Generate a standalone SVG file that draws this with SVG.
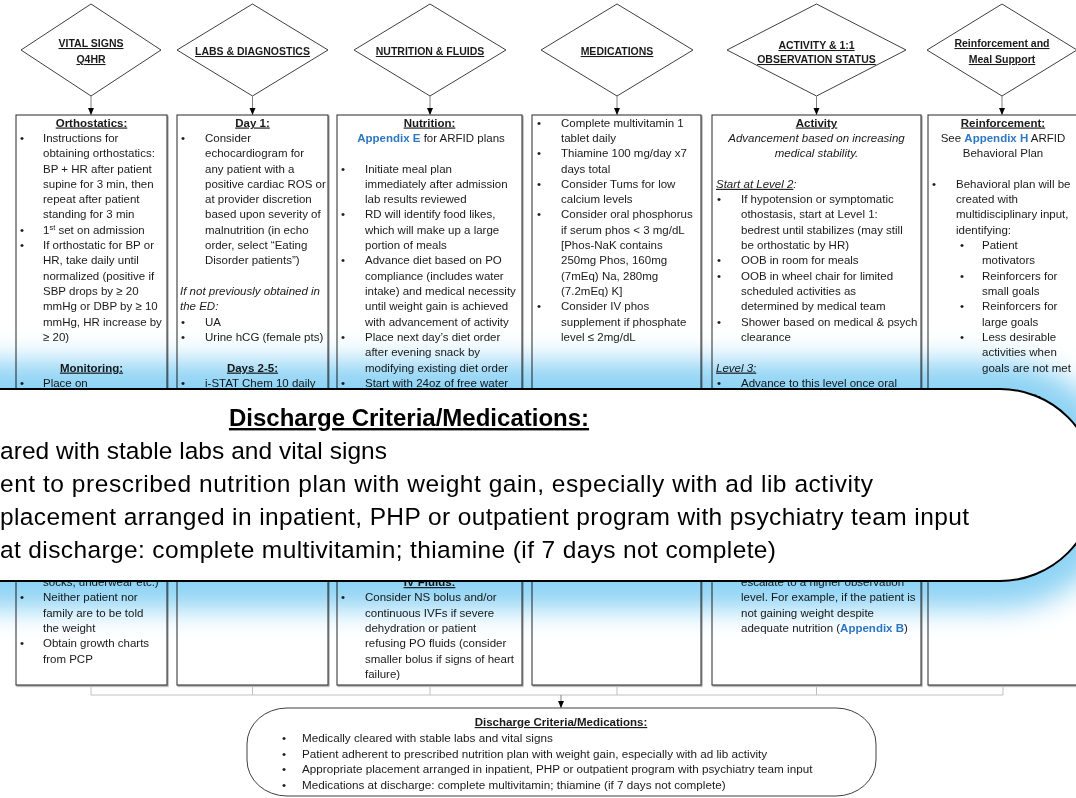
<svg xmlns="http://www.w3.org/2000/svg" width="1076" height="798" viewBox="0 0 1076 798">
<defs>
<style>
text{font-family:"Liberation Sans",Arial,sans-serif;fill:#1a1a1a}
.t{font-size:11.5px}
.h{font-size:11.5px;font-weight:bold;text-decoration:underline;text-anchor:middle}
.c{text-anchor:middle}
.i{font-style:italic}
.u{text-decoration:underline}
.ap{fill:#2e78c2;font-weight:bold}
.dt{font-size:10.5px;font-weight:bold;text-decoration:underline;text-anchor:middle}
.dia{fill:#fff;stroke:#404040;stroke-width:1}
.box{fill:#fff;stroke:#3a3a3a;stroke-width:1.1;filter:url(#shadow)}
.arrow{stroke:#808080;stroke-width:1;fill:none}
.merge{stroke:#c0c0c0;stroke-width:1;fill:none}
.m{font-size:24.5px;fill:#000}
.mh{font-size:24px;font-weight:bold;text-decoration:underline;text-anchor:middle;fill:#000}
.glow{fill:#8ed3f4;mix-blend-mode:multiply}
</style>
<marker id="head" viewBox="0 0 7 7" refX="7" refY="3.5" markerWidth="7" markerHeight="7" markerUnits="userSpaceOnUse" orient="auto">
<path d="M0,0.5 L7,3.5 L0,6.5 z" fill="#000"/>
</marker>
<filter id="shadow" x="-5%" y="-5%" width="110%" height="110%">
<feDropShadow dx="1" dy="1.2" stdDeviation="0.7" flood-color="#000" flood-opacity="0.4"/>
</filter>
<filter id="blur" x="-10%" y="-40%" width="120%" height="180%">
<feGaussianBlur stdDeviation="14"/>
</filter>
</defs>
<rect width="1076" height="798" fill="#fff"/>

<!-- category headers -->
<g id="head-vitals"><polygon class="dia" points="91,4 161,50 91,96 21,50"/>
<text class="dt" x="91" y="47">VITAL SIGNS</text><text class="dt" x="91" y="63">Q4HR</text></g>
<g id="head-labs"><polygon class="dia" points="252.5,4 328,50 252.5,96 177,50"/>
<text class="dt" x="252.5" y="55">LABS &amp; DIAGNOSTICS</text></g>
<g id="head-nutrition"><polygon class="dia" points="430,4 506,50 430,96 354,50"/>
<text class="dt" x="430" y="55">NUTRITION &amp; FLUIDS</text></g>
<g id="head-medications"><polygon class="dia" points="617,4 693,50 617,96 541,50"/>
<text class="dt" x="617" y="55">MEDICATIONS</text></g>
<g id="head-activity"><polygon class="dia" points="816.5,4 906,50 816.5,96 727,50"/>
<text class="dt" x="816.5" y="49">ACTIVITY &amp; 1:1</text><text class="dt" x="816.5" y="63">OBSERVATION STATUS</text></g>
<g id="head-reinforcement"><polygon class="dia" points="1002,4 1077,50 1002,96 927,50"/>
<text class="dt" x="1002" y="47">Reinforcement and</text><text class="dt" x="1002" y="63">Meal Support</text></g>

<!-- detail boxes -->
<g id="body-vitals" class="t">
<rect class="box" x="16" y="115" width="151" height="570"/>
<text class="h" x="91.5" y="126.5">Orthostatics:</text>
<text x="20" y="141.8">•</text><text x="43" y="141.8">Instructions for</text>
<text x="43" y="157.1">obtaining orthostatics:</text>
<text x="43" y="172.5">BP + HR after patient</text>
<text x="43" y="187.8">supine for 3 min, then</text>
<text x="43" y="203.1">repeat after patient</text>
<text x="43" y="218.4">standing for 3 min</text>
<text x="20" y="233.7">•</text><text x="43" y="233.7">1<tspan font-size="7.5px" baseline-shift="super">st</tspan> set on admission</text>
<text x="20" y="249.1">•</text><text x="43" y="249.1">If orthostatic for BP or</text>
<text x="43" y="264.4">HR, take daily until</text>
<text x="43" y="279.7">normalized (positive if</text>
<text x="43" y="295">SBP drops by ≥ 20</text>
<text x="43" y="310.3">mmHg  or DBP by ≥ 10</text>
<text x="43" y="325.7">mmHg, HR increase by</text>
<text x="43" y="341">≥ 20)</text>
<text class="h" x="91.5" y="371.6">Monitoring:</text>
<text x="20" y="386.9">•</text><text x="43" y="386.9">Place on</text>
<text x="43" y="586.1">socks, underwear etc.)</text>
<text x="20" y="601.4">•</text><text x="43" y="601.4">Neither patient nor</text>
<text x="43" y="616.7">family are to be told</text>
<text x="43" y="632.1">the weight</text>
<text x="20" y="647.4">•</text><text x="43" y="647.4">Obtain growth charts</text>
<text x="43" y="662.7">from PCP</text>
</g>

<g id="body-labs" class="t">
<rect class="box" x="177" y="115" width="151" height="570"/>
<text class="h" x="252.5" y="126.5">Day 1:</text>
<text x="181" y="141.8">•</text><text x="205" y="141.8">Consider</text>
<text x="205" y="157.1">echocardiogram for</text>
<text x="205" y="172.5">any patient with a</text>
<text x="205" y="187.8">positive cardiac ROS or</text>
<text x="205" y="203.1">at provider discretion</text>
<text x="205" y="218.4">based upon severity of</text>
<text x="205" y="233.7">malnutrition (in echo</text>
<text x="205" y="249.1">order, select “Eating</text>
<text x="205" y="264.4">Disorder patients”)</text>
<text class="i" x="180" y="295">If not previously obtained in</text>
<text class="i" x="180" y="310.3">the ED:</text>
<text x="181" y="325.7">•</text><text x="205" y="325.7">UA</text>
<text x="181" y="341">•</text><text x="205" y="341">Urine hCG (female pts)</text>
<text class="h" x="252.5" y="371.6">Days 2-5:</text>
<text x="181" y="386.9">•</text><text x="205" y="386.9">i-STAT Chem 10 daily</text>
</g>

<g id="body-nutrition" class="t">
<rect class="box" x="337" y="115" width="185" height="570"/>
<text class="h" x="429.5" y="126.5">Nutrition:</text>
<text class="c" x="431" y="141.8"><tspan class="ap">Appendix E</tspan> for ARFID plans</text>
<text x="341" y="172.5">•</text><text x="365" y="172.5">Initiate meal plan</text>
<text x="365" y="187.8">immediately after admission</text>
<text x="365" y="203.1">lab results reviewed</text>
<text x="341" y="218.4">•</text><text x="365" y="218.4">RD will identify food likes,</text>
<text x="365" y="233.7">which will make up a large</text>
<text x="365" y="249.1">portion of meals</text>
<text x="341" y="264.4">•</text><text x="365" y="264.4">Advance diet based on PO</text>
<text x="365" y="279.7">compliance (includes water</text>
<text x="365" y="295">intake) and medical necessity</text>
<text x="365" y="310.3">until weight gain is achieved</text>
<text x="365" y="325.7">with advancement of activity</text>
<text x="341" y="341">•</text><text x="365" y="341">Place next day’s diet order</text>
<text x="365" y="356.3">after evening snack by</text>
<text x="365" y="371.6">modifying existing diet order</text>
<text x="341" y="386.9">•</text><text x="365" y="386.9">Start with 24oz of free water</text>
<text class="h" x="429.5" y="586.1">IV Fluids:</text>
<text x="341" y="601.4">•</text><text x="365" y="601.4">Consider NS bolus and/or</text>
<text x="365" y="616.7">continuous IVFs if severe</text>
<text x="365" y="632.1">dehydration or patient</text>
<text x="365" y="647.4">refusing PO fluids (consider</text>
<text x="365" y="662.7">smaller bolus if signs of heart</text>
<text x="365" y="678">failure)</text>
</g>

<g id="body-medications" class="t">
<rect class="box" x="532" y="115" width="169" height="570"/>
<text x="537" y="126.5">•</text><text x="561" y="126.5">Complete multivitamin 1</text>
<text x="561" y="141.8">tablet daily</text>
<text x="537" y="157.1">•</text><text x="561" y="157.1">Thiamine 100 mg/day x7</text>
<text x="561" y="172.5">days total</text>
<text x="537" y="187.8">•</text><text x="561" y="187.8">Consider Tums for low</text>
<text x="561" y="203.1">calcium levels</text>
<text x="537" y="218.4">•</text><text x="561" y="218.4">Consider oral phosphorus</text>
<text x="561" y="233.7">if serum phos &lt; 3 mg/dL</text>
<text x="561" y="249.1">[Phos-NaK contains</text>
<text x="561" y="264.4">250mg Phos, 160mg</text>
<text x="561" y="279.7">(7mEq) Na, 280mg</text>
<text x="561" y="295">(7.2mEq) K]</text>
<text x="537" y="310.3">•</text><text x="561" y="310.3">Consider IV phos</text>
<text x="561" y="325.7">supplement if phosphate</text>
<text x="561" y="341">level ≤ 2mg/dL</text>
</g>

<g id="body-activity" class="t">
<rect class="box" x="712" y="115" width="209" height="570"/>
<text class="h" x="816.5" y="126.5">Activity</text>
<text class="c i" x="816.5" y="141.8">Advancement based on increasing</text>
<text class="c i" x="816.5" y="157.1">medical stability.</text>
<text class="i" x="716" y="187.8"><tspan class="u">Start at Level 2</tspan>:</text>
<text x="717" y="203.1">•</text><text x="741" y="203.1">If hypotension or symptomatic</text>
<text x="741" y="218.4">othostasis, start at Level 1:</text>
<text x="741" y="233.7">bedrest until stabilizes (may still</text>
<text x="741" y="249.1">be orthostatic by HR)</text>
<text x="717" y="264.4">•</text><text x="741" y="264.4">OOB in room for meals</text>
<text x="717" y="279.7">•</text><text x="741" y="279.7">OOB in wheel chair for limited</text>
<text x="741" y="295">scheduled activities as</text>
<text x="741" y="310.3">determined by medical team</text>
<text x="717" y="325.7">•</text><text x="741" y="325.7">Shower based on medical &amp; psych</text>
<text x="741" y="341">clearance</text>
<text class="i" x="716" y="371.6"><tspan class="u">Level 3:</tspan></text>
<text x="717" y="386.9">•</text><text x="741" y="386.9">Advance to this level once oral</text>
<text x="741" y="586.1">escalate to a higher observation</text>
<text x="741" y="601.4">level. For example, if the patient is</text>
<text x="741" y="616.7">not gaining weight despite</text>
<text x="741" y="632.1">adequate nutrition (<tspan class="ap">Appendix B</tspan>)</text>
</g>

<g id="body-reinforcement" class="t">
<rect class="box" x="928" y="115" width="160" height="570"/>
<text class="h" x="1003" y="126.5">Reinforcement:</text>
<text class="c" x="1003" y="141.8">See <tspan class="ap">Appendix H</tspan> ARFID</text>
<text class="c" x="1003" y="157.1">Behavioral Plan</text>
<text x="932" y="187.8">•</text><text x="956" y="187.8">Behavioral plan will be</text>
<text x="956" y="203.1">created with</text>
<text x="956" y="218.4">multidisciplinary input,</text>
<text x="956" y="233.7">identifying:</text>
<text x="960" y="249.1">•</text><text x="982" y="249.1">Patient</text>
<text x="982" y="264.4">motivators</text>
<text x="960" y="279.7">•</text><text x="982" y="279.7">Reinforcers for</text>
<text x="982" y="295">small goals</text>
<text x="960" y="310.3">•</text><text x="982" y="310.3">Reinforcers for</text>
<text x="982" y="325.7">large goals</text>
<text x="960" y="341">•</text><text x="982" y="341">Less desirable</text>
<text x="982" y="356.3">activities when</text>
<text x="982" y="371.6">goals are not met</text>
<text class="h" x="1003" y="402.3">Meal Support:</text>
</g>

<!-- connectors -->
<g id="connectors">
<line class="arrow" x1="91" y1="96" x2="91" y2="115" marker-end="url(#head)"/>
<line class="arrow" x1="252.5" y1="96" x2="252.5" y2="115" marker-end="url(#head)"/>
<line class="arrow" x1="430" y1="96" x2="430" y2="115" marker-end="url(#head)"/>
<line class="arrow" x1="617" y1="96" x2="617" y2="115" marker-end="url(#head)"/>
<line class="arrow" x1="816.5" y1="96" x2="816.5" y2="115" marker-end="url(#head)"/>
<line class="arrow" x1="1002" y1="96" x2="1002" y2="115" marker-end="url(#head)"/>
<path class="merge" d="M91,686 V695 M252.5,686 V695 M430,686 V695 M617,686 V695 M816.5,686 V695 M1003,686 V695 M91,695 H1003"/>
<line class="arrow" x1="561" y1="695" x2="561" y2="708" marker-end="url(#head)"/>
</g>

<!-- discharge summary -->
<g id="node-discharge" class="t">
<rect x="247" y="708" width="629" height="88" rx="40" ry="36" fill="#fff" stroke="#404040" stroke-width="1"/>
<text class="h" x="561" y="726">Discharge Criteria/Medications:</text>
<g font-size="11.7px">
<text x="282" y="742">•</text><text x="302" y="742">Medically cleared with stable labs and vital signs</text>
<text x="282" y="757.5">•</text><text x="302" y="757.5">Patient adherent to prescribed nutrition plan with weight gain, especially with ad lib activity</text>
<text x="282" y="773">•</text><text x="302" y="773">Appropriate placement arranged in inpatient, PHP or outpatient program with psychiatry team input</text>
<text x="282" y="788.5">•</text><text x="302" y="788.5">Medications at discharge: complete multivitamin; thiamine (if 7 days not complete)</text>
</g>
</g>

<!-- enlarged view of the discharge summary -->
<g id="callout">
<path class="glow" d="M-250,361 H1000 A124,124 0 0 1 1000,609 H-250 Z" filter="url(#blur)"/>
<path d="M-20,389 H1000 A96,96 0 0 1 1000,581 H-20 Z" fill="#fff" stroke="#000" stroke-width="2"/>
<text class="mh" x="409" y="426">Discharge Criteria/Medications:</text>
<text class="m" x="0" y="459" textLength="387" lengthAdjust="spacing">ared with stable labs and vital signs</text>
<text class="m" x="0" y="492" textLength="873" lengthAdjust="spacing">ent to prescribed nutrition plan with weight gain, especially with ad lib activity</text>
<text class="m" x="0" y="525" textLength="969" lengthAdjust="spacing">placement arranged in inpatient, PHP or outpatient program with psychiatry team input</text>
<text class="m" x="0" y="558" textLength="776" lengthAdjust="spacing">at discharge: complete multivitamin; thiamine (if 7 days not complete)</text>
</g>
</svg>
